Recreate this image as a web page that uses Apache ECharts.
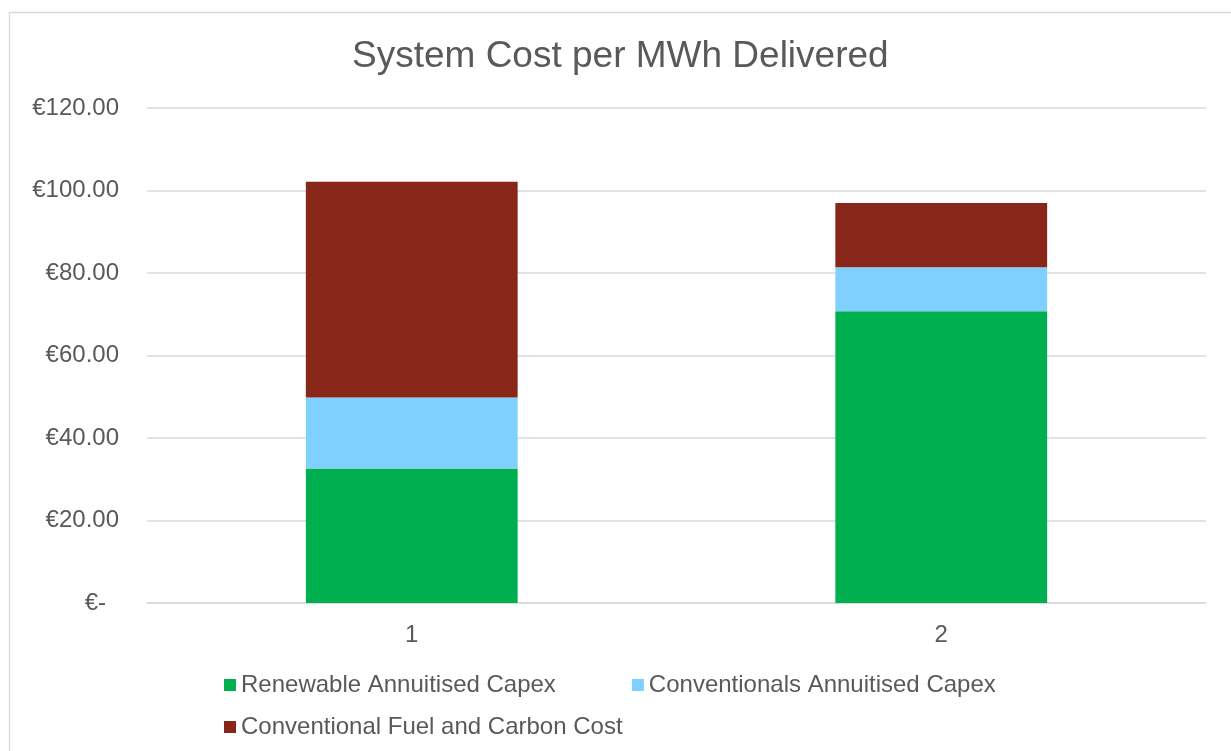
<!DOCTYPE html>
<html>
<head>
<meta charset="utf-8">
<script src="https://cdn.jsdelivr.net/npm/echarts@6/dist/echarts.min.js"></script>
<style>
html,body{margin:0;padding:0;background:#fff;}
#chart{width:1231px;height:751px;}
</style>
</head>
<body>
<div id="chart"></div>
<script>
var categories = ['1', '2'];
var renewableCapex = [32.6, 70.7];
var conventionalCapex = [17.2, 10.7];
var fuelCarbon = [52.3, 15.6];
var seriesNames = ['Renewable Annuitised Capex', 'Conventionals Annuitised Capex', 'Conventional Fuel and Carbon Cost'];
var titleText = 'System Cost per MWh Delivered';

var FONT = 'Liberation Sans, Arial, sans-serif';
var TXT = '#595959';

var chart = echarts.init(document.getElementById('chart'), null, {renderer: 'canvas'});
chart.setOption({
  backgroundColor: '#ffffff',
  animation: false,
  title: {
    text: titleText,
    left: 352,
    top: 38,
    padding: 0,
    textStyle: {fontFamily: FONT, fontSize: 37, fontWeight: 'normal', color: TXT, lineHeight: 37}
  },
  graphic: [{
    type: 'rect',
    shape: {x: 9.5, y: 12.5, width: 1300, height: 800},
    style: {fill: 'none', stroke: '#d9d9d9', lineWidth: 1.3},
    silent: true,
    z: -1
  }],
  legend: [{
    data: [seriesNames[0], seriesNames[1]],
    left: 224,
    top: 673,
    padding: 0,
    itemWidth: 12,
    itemHeight: 12,
    itemGap: 76,
    icon: 'rect',
    textStyle: {fontFamily: FONT, fontSize: 24, color: TXT, lineHeight: 24}
  }, {
    data: [seriesNames[2]],
    left: 224,
    top: 715,
    padding: 0,
    itemWidth: 12,
    itemHeight: 12,
    icon: 'rect',
    textStyle: {fontFamily: FONT, fontSize: 24, color: TXT, lineHeight: 24}
  }],
  grid: {left: 147, right: 25, top: 108, bottom: 148, containLabel: false},
  xAxis: {
    type: 'category',
    data: categories,
    axisLine: {show: true, lineStyle: {color: '#d9d9d9', width: 1.5}},
    axisTick: {show: false},
    axisLabel: {fontFamily: FONT, fontSize: 24, color: TXT, margin: 20}
  },
  yAxis: {
    type: 'value',
    min: 0,
    max: 120,
    interval: 20,
    axisLine: {show: false},
    axisTick: {show: false},
    splitLine: {lineStyle: {color: '#d9d9d9', width: 1.5}},
    axisLabel: {
      fontFamily: FONT, fontSize: 24, color: TXT, margin: 28,
      formatter: function (v) {
        if (v === 0) return '{z|€-}';
        return '€' + v.toFixed(2);
      },
      rich: {z: {fontFamily: FONT, fontSize: 24, color: TXT, padding: [0, 13, 0, 0]}}
    }
  },
  series: [{
    name: seriesNames[0], type: 'bar', stack: 'total', data: renewableCapex,
    barWidth: '40%', itemStyle: {color: '#00B050'}
  }, {
    name: seriesNames[1], type: 'bar', stack: 'total', data: conventionalCapex,
    barWidth: '40%', itemStyle: {color: '#7FD0FF'}
  }, {
    name: seriesNames[2], type: 'bar', stack: 'total', data: fuelCarbon,
    barWidth: '40%', itemStyle: {color: '#88261A'}
  }]
});
</script>
</body>
</html>
